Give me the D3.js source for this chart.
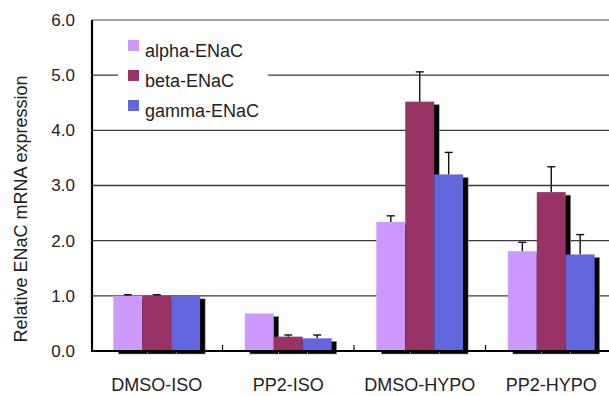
<!DOCTYPE html>
<html>
<head>
<meta charset="utf-8">
<script src="https://cdn.jsdelivr.net/npm/d3@7"></script>
<style>
	body { margin: 0; background: #fff; }
	svg { display: block; font-family: "Liberation Sans", Arial, sans-serif; }
</style>
</head>
<body>
<div id="vis"></div>
<script>

var categories = ["DMSO-ISO", "PP2-ISO", "DMSO-HYPO", "PP2-HYPO"];
var seriesNames = ["alpha-ENaC", "beta-ENaC", "gamma-ENaC"];
var seriesColours = ["#cc99ff", "#993366", "#6367dd"];

// mean values, one array per series, in category order
var alphaValues = [1.0, 0.68, 2.34, 1.81];
var betaValues = [1.0, 0.26, 4.52, 2.88];
var gammaValues = [1.0, 0.23, 3.20, 1.75];

// upward error bars (0 = none drawn)
var alphaErrors = [0.02, 0, 0.11, 0.16];
var betaErrors = [0.02, 0.03, 0.54, 0.46];
var gammaErrors = [0, 0.06, 0.40, 0.36];

var yTicks = [0, 1, 2, 3, 4, 5, 6];
var yTitle = "Relative ENaC mRNA expression";

function draw () {

	var w = 609, h = 396;
	var left = 92, top = 20, bottom = 351;
	var step = 131.5;

	var svg = d3.select("#vis").append("svg")
	.attr("width", w)
	.attr("height", h);

	var values = [alphaValues, betaValues, gammaValues];
	var errors = [alphaErrors, betaErrors, gammaErrors];

	var rows = [];
	categories.forEach(function (c, ci) {
		seriesNames.forEach(function (s, si) {
			rows.push({cat: c, series: s, si: si, value: values[si][ci], err: errors[si][ci]});
		});
	});

	var x0 = d3.scaleBand()
	.domain(categories)
	.range([left - 1, left - 1 + step*categories.length])
	.padding(0);

	var groupW = x0.bandwidth()*0.66;
	var x1 = d3.scaleBand()
	.domain(seriesNames)
	.range([(x0.bandwidth()-groupW)/2, (x0.bandwidth()+groupW)/2])
	.padding(0);

	var y = d3.scaleLinear()
	.domain([0, 6])
	.range([bottom, top]);

	var colour = d3.scaleOrdinal()
	.domain(seriesNames)
	.range(seriesColours);

	// gridlines
	svg.append("g")
	.selectAll("line")
	.data(yTicks.filter(function (d) { return d > 0; }))
	.enter()
	.append("line")
	.attr("x1", left)
	.attr("x2", w)
	.attr("y1", function (d) { return y(d); })
	.attr("y2", function (d) { return y(d); })
	.attr("stroke", function (d) { return d == 6 ? "#8a8a8a" : "#3a3a3a"; })
	.attr("stroke-width", 1.4);

	// legend backing hides the gridline behind it
	svg.append("rect")
	.attr("x", 118)
	.attr("y", 27)
	.attr("width", 150)
	.attr("height", 97)
	.attr("fill", "#fff");

	var plot = svg.append("g");

	// black drop shadows first, then the bars over them
	plot.selectAll(".shadow")
	.data(rows)
	.enter()
	.append("rect")
	.attr("class", "shadow")
	.attr("x", function (d) { return x0(d.cat) + x1(d.series) + 5; })
	.attr("y", function (d) { return y(d.value) + 3; })
	.attr("width", x1.bandwidth())
	.attr("height", function (d) { return bottom - y(d.value); })
	.attr("fill", "#000")
	.attr("stroke", "#999")
	.attr("stroke-width", 0.6);

	plot.selectAll(".bar")
	.data(rows)
	.enter()
	.append("rect")
	.attr("class", "bar")
	.attr("x", function (d) { return x0(d.cat) + x1(d.series); })
	.attr("y", function (d) { return y(d.value); })
	.attr("width", x1.bandwidth())
	.attr("height", function (d) { return bottom - y(d.value); })
	.attr("fill", function (d) { return colour(d.series); });

	var errRows = rows.filter(function (d) { return d.err > 0; });

	var eb = plot.selectAll(".err")
	.data(errRows)
	.enter()
	.append("g")
	.attr("class", "err")
	.attr("stroke", "#111")
	.attr("stroke-width", 1.4);

	eb.append("line")
	.attr("x1", function (d) { return x0(d.cat) + x1(d.series) + x1.bandwidth()/2; })
	.attr("x2", function (d) { return x0(d.cat) + x1(d.series) + x1.bandwidth()/2; })
	.attr("y1", function (d) { return y(d.value); })
	.attr("y2", function (d) { return y(d.value + d.err); });

	eb.append("line")
	.attr("x1", function (d) { return x0(d.cat) + x1(d.series) + x1.bandwidth()/2 - 4; })
	.attr("x2", function (d) { return x0(d.cat) + x1(d.series) + x1.bandwidth()/2 + 4; })
	.attr("y1", function (d) { return y(d.value + d.err); })
	.attr("y2", function (d) { return y(d.value + d.err); });

	// axes
	svg.append("line")
	.attr("x1", left)
	.attr("x2", w)
	.attr("y1", bottom)
	.attr("y2", bottom)
	.attr("stroke", "#000")
	.attr("stroke-width", 2.2);

	svg.append("line")
	.attr("x1", left)
	.attr("x2", left)
	.attr("y1", top)
	.attr("y2", bottom + 1)
	.attr("stroke", "#000")
	.attr("stroke-width", 2.2);

	// little category divider ticks pointing up
	svg.append("g")
	.selectAll("line")
	.data(categories.slice(1))
	.enter()
	.append("line")
	.attr("x1", function (d) { return x0(d); })
	.attr("x2", function (d) { return x0(d); })
	.attr("y1", bottom)
	.attr("y2", bottom - 6)
	.attr("stroke", "#000")
	.attr("stroke-width", 1.2);

	svg.append("g")
	.selectAll("text")
	.data(yTicks)
	.enter()
	.append("text")
	.attr("x", 75)
	.attr("y", function (d) { return y(d); })
	.attr("dy", "0.35em")
	.attr("text-anchor", "end")
	.attr("font-size", 17)
	.attr("fill", "#222")
	.text(function (d) { return d3.format(".1f")(d); });

	svg.append("g")
	.selectAll("text")
	.data(categories)
	.enter()
	.append("text")
	.attr("x", function (d) { return x0(d) + x0.bandwidth()/2; })
	.attr("y", 391)
	.attr("text-anchor", "middle")
	.attr("font-size", 18)
	.attr("fill", "#222")
	.text(function (d) { return d; });

	svg.append("text")
	.attr("transform", "translate(27,209) rotate(-90)")
	.attr("text-anchor", "middle")
	.attr("font-size", 18)
	.attr("fill", "#222")
	.text(yTitle);

	// legend
	var key = svg.selectAll(".key-group")
	.data(seriesNames)
	.enter()
	.append("g")
	.attr("class", "key-group")
	.attr("transform", function (d, i) {
		return "translate(128," + (40 + i*30) + ")";
	});

	key.append("rect")
	.attr("width", 11)
	.attr("height", 11)
	.attr("fill", function (d) { return colour(d); });

	key.append("text")
	.attr("x", 17)
	.attr("y", 16.7)
	.attr("font-size", 18)
	.attr("fill", "#222")
	.text(function (d) { return d; });
}

draw();

</script>
</body>
</html>
